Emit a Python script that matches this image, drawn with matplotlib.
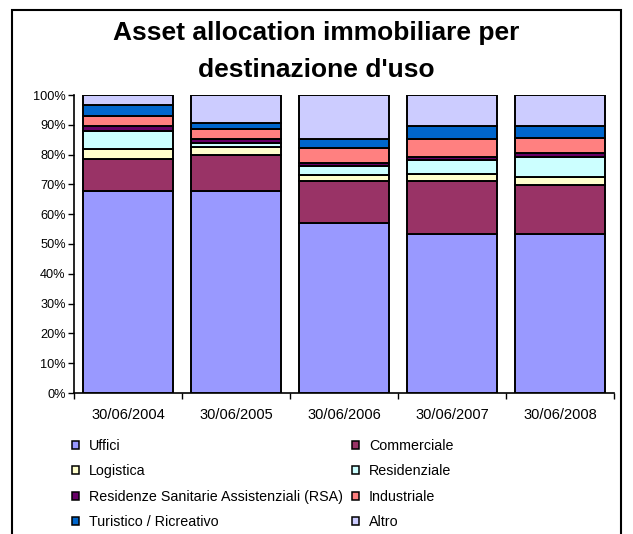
import matplotlib
matplotlib.use("Agg")
import matplotlib.pyplot as plt
from matplotlib.patches import Patch, Rectangle
import numpy as np

plt.rcParams['font.family'] = ['Liberation Sans', 'DejaVu Sans']

dates = ["30/06/2004", "30/06/2005", "30/06/2006", "30/06/2007", "30/06/2008"]
categories = ["Uffici", "Commerciale", "Logistica", "Residenziale",
              "Residenze Sanitarie Assistenziali (RSA)", "Industriale",
              "Turistico / Ricreativo", "Altro"]
uffici       = [67.8, 67.7, 57.1, 53.5, 53.5]
commerciale  = [10.8, 12.2, 14.1, 17.6, 16.3]
logistica    = [3.3, 2.8, 2.0, 2.4, 2.6]
residenziale = [5.9, 1.1, 3.1, 4.8, 6.7]
rsa          = [1.9, 1.4, 0.8, 0.8, 1.3]
industriale  = [3.4, 3.3, 5.2, 6.0, 5.3]
turistico    = [3.6, 2.2, 2.9, 4.5, 4.0]
altro        = [3.3, 9.3, 14.8, 10.4, 10.3]
series = [uffici, commerciale, logistica, residenziale, rsa, industriale, turistico, altro]
colors = ["#9999FF", "#993366", "#FFFFCC", "#CCFFFF", "#660066", "#FF8080", "#0066CC", "#CCCCFF"]

fig = plt.figure(figsize=(6.33, 5.34), dpi=100)
ax = fig.add_axes([74/633, 1-393/534, (614-74)/633, (393-95)/534])

x = np.arange(len(dates))
bottom = np.zeros(len(dates))
handles = []
for vals, col, name in zip(series, colors, categories):
    v = np.array(vals)
    ax.bar(x, v, 0.84, bottom=bottom, color=col, edgecolor='black', linewidth=1.4, zorder=3)
    bottom += v
    handles.append(Patch(facecolor=col, edgecolor='black', linewidth=1.1, label=name))

ax.set_xlim(-0.5, 4.5)
ax.set_ylim(0, 100)
ax.set_yticks(np.arange(0, 101, 10))
ax.set_yticklabels([f"{t}%" for t in range(0, 101, 10)], fontsize=9.2)
ax.set_xticks(np.arange(-0.5, 5, 1))
ax.set_xticklabels([])
ax.set_xticks(x, minor=True)
ax.set_xticklabels(dates, minor=True, fontsize=10.5)
ax.tick_params(axis='x', which='major', length=4, width=1, direction='out')
ax.tick_params(axis='x', which='minor', length=0, pad=10.5)
ax.tick_params(axis='y', length=4, width=1, direction='out', pad=2)
for s in ['top', 'right']:
    ax.spines[s].set_visible(False)
for s in ['left', 'bottom']:
    ax.spines[s].set_linewidth(1.2)

fig.text(0.5, 1-33/534, "Asset allocation immobiliare per", ha='center', va='center',
         fontsize=19, fontweight='bold')
fig.text(0.5, 1-70/534, "destinazione d'uso", ha='center', va='center',
         fontsize=19, fontweight='bold')

order = [0, 2, 4, 6, 1, 3, 5, 7]
leg = fig.legend([handles[i] for i in order], [categories[i] for i in order],
                 ncol=2, loc='upper left', bbox_to_anchor=(72/633, 1-439/534),
                 frameon=False, fontsize=10.3, handlelength=0.5, handleheight=0.5,
                 handletextpad=0.7, columnspacing=0.6, labelspacing=0.8,
                 borderaxespad=0, borderpad=0)

fig.patches.append(Rectangle((12/633, -0.05), (621-12)/633, 1.05 - 10/534,
                             transform=fig.transFigure, fill=False,
                             edgecolor='black', linewidth=1.5))

fig.savefig("out.png", dpi=100)
